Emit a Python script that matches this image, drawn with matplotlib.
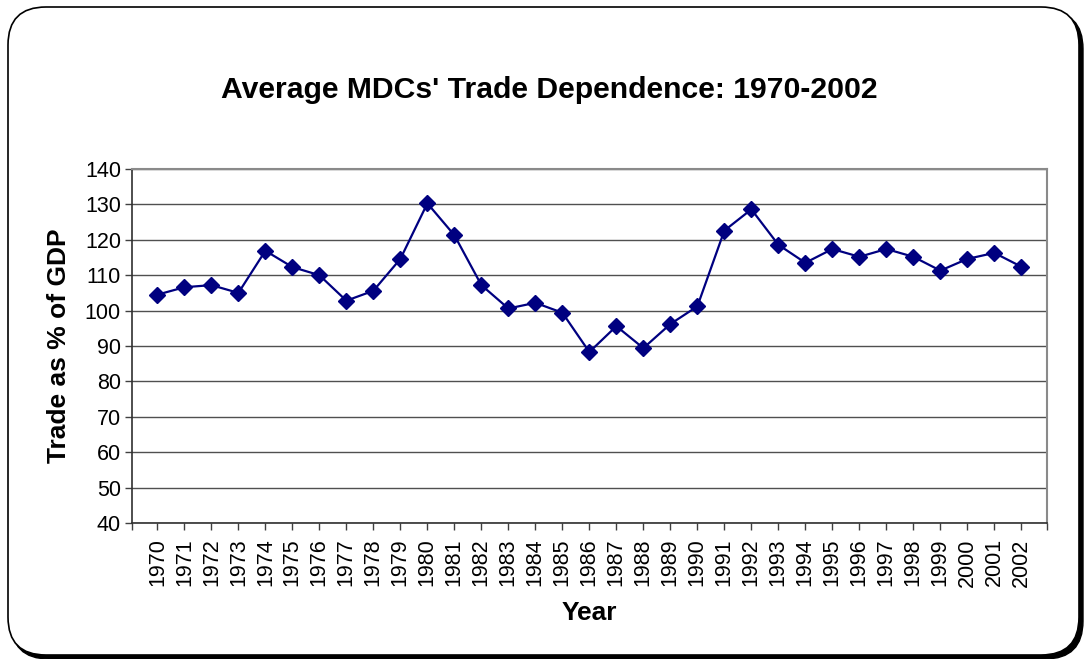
import matplotlib
matplotlib.use("Agg")
import matplotlib.pyplot as plt
from matplotlib.patches import FancyBboxPatch

years = [str(y) for y in range(1970, 2003)]
trade = [104.5, 106.6, 107.2, 105.0, 116.9, 112.3, 110.0, 102.8, 105.6, 114.6,
         130.3, 121.3, 107.2, 100.6, 102.2, 99.4, 88.3, 95.6, 89.4, 96.2,
         101.2, 122.6, 128.6, 118.6, 113.5, 117.4, 115.2, 117.4, 115.2, 111.3,
         114.6, 116.3, 112.4]
yticks = list(range(40, 141, 10))

plt.rcParams['font.family'] = ['Liberation Sans', 'DejaVu Sans']

W, H = 1084, 659
fig = plt.figure(figsize=(W / 100, H / 100), dpi=100)

def fx(px):
    return px / W

def fy(py):
    return 1 - py / H

# Rounded border with shadow
shadow = FancyBboxPatch((fx(11), fy(659)), fx(1083 - 11), (659 - 11) / H,
                        boxstyle="round,pad=0,rounding_size=0.035",
                        transform=fig.transFigure, facecolor='black',
                        edgecolor='black', lw=1, mutation_aspect=W / H, zorder=0)
box = FancyBboxPatch((fx(8), fy(655)), fx(1079 - 8), (655 - 7) / H,
                     boxstyle="round,pad=0,rounding_size=0.035",
                     transform=fig.transFigure, facecolor='white',
                     edgecolor='black', lw=1.2, mutation_aspect=W / H, zorder=1)
fig.patches.extend([shadow, box])

ax = fig.add_axes([fx(132), fy(523), fx(1047 - 132), (523 - 169) / H])
ax.set_zorder(2)
ax.set_facecolor('white')

x = list(range(len(years)))
ax.plot(x, trade, color='#000080', lw=1.6, marker='D', markersize=8.5,
        markerfacecolor='#000080', markeredgecolor='#000080', zorder=3)

xmin, xmax = -0.94, 32.95
ax.set_xlim(xmin, xmax)
ax.set_ylim(40, 140)
ax.set_yticks(yticks)
ax.set_yticklabels([str(v) for v in yticks], fontsize=15.5)
ax.set_xticks(x)
ax.set_xticklabels(years, rotation=90, fontsize=15.5)
ax.set_xticks([xmin, xmax], minor=True)
ax.tick_params(axis='both', which='both', direction='out', length=5,
               width=1, color='#404040')
ax.tick_params(axis='x', which='major', pad=6)
ax.tick_params(axis='y', pad=3)

ax.grid(axis='y', color='#505050', lw=1)
ax.set_axisbelow(True)
for s in ['left', 'bottom']:
    ax.spines[s].set_color('#303030')
    ax.spines[s].set_linewidth(1.2)
for s in ['top', 'right']:
    ax.spines[s].set_color('#8a8a8a')
    ax.spines[s].set_linewidth(1.5)

ax.set_ylabel('Trade as % of GDP', fontsize=19, fontweight='bold', labelpad=10)
ax.set_xlabel('Year', fontsize=19, fontweight='bold', labelpad=10)

fig.text(fx(549), fy(90), "Average MDCs' Trade Dependence: 1970-2002",
         ha='center', va='center', fontsize=21.7, fontweight='bold', zorder=3)

fig.savefig('out.png', dpi=100, facecolor='white')
